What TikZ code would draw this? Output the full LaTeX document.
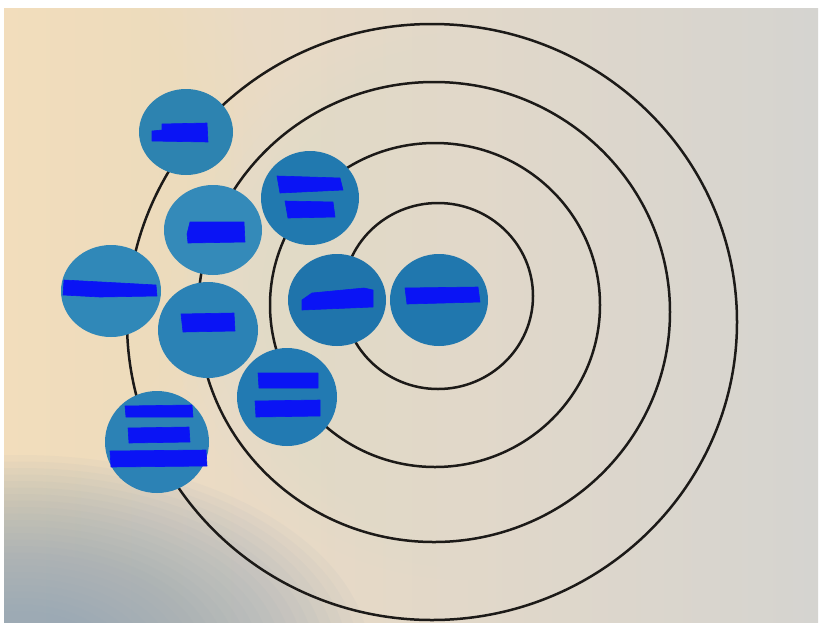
\documentclass[tikz,border=0pt]{standalone}
\usepackage{tikz}
\definecolor{bgcream}{HTML}{F2DDC0}
\definecolor{bgmid}{HTML}{DBDAD5}
\definecolor{bgright}{HTML}{D5D4D0}
\definecolor{bgpeach}{HTML}{F6DEBC}
\definecolor{bgblue}{HTML}{8DA2B4}
\definecolor{bglight}{HTML}{E1E1DD}
\definecolor{ringcol}{HTML}{1C1A18}
\definecolor{discA}{HTML}{2D83B0}
\definecolor{discB}{HTML}{348AB9}
\definecolor{discC}{HTML}{2179AF}
\definecolor{discD}{HTML}{3088B8}
\definecolor{discE}{HTML}{2B82B5}
\definecolor{discF}{HTML}{1F74AB}
\definecolor{discG}{HTML}{2077AE}
\definecolor{discH}{HTML}{227AB2}
\definecolor{discI}{HTML}{2C82B5}
\definecolor{barblue}{HTML}{0A14F5}
\tikzset{
  ring/.style={draw=ringcol, line width=2.5pt},
  barmark/.style={fill=barblue, draw=barblue, line width=0.6pt, line join=round},
}
\begin{document}
\begin{tikzpicture}[x=1pt,y=-1pt]
\useasboundingbox (0,0) rectangle (827,622);
\fill[white] (0,0) rectangle (827,622);
% photographed paper background
\begin{scope}
\clip (4,8) rectangle (818,622);
\shade[left color=bgcream, middle color=bgmid, right color=bgright] (4,8) rectangle (818,622);
\foreach \i in {0,...,19}{
  \fill[bgpeach, opacity=0.045] (0,200) ellipse [x radius={(280-12*\i)*1pt}, y radius={(360-15*\i)*1pt}];
}
\foreach \i in {0,...,19}{
  \fill[bglight, opacity=0.045] (470,300) ellipse [x radius={(300-13*\i)*1pt}, y radius={(280-12*\i)*1pt}];
}
\foreach \i in {0,...,24}{
  \fill[bgblue, opacity=0.06] (20,660) ellipse [x radius={(350-11*\i)*1pt}, y radius={(205-6.5*\i)*1pt}];
}
\end{scope}
% concentric rings
\draw[ring] (432,322) ellipse [x radius=305pt, y radius=298pt];
\draw[ring] (434,312) ellipse [x radius=236pt, y radius=230pt];
\draw[ring] (435,305) ellipse [x radius=165pt, y radius=162pt];
\draw[ring] (438,296) ellipse [x radius=95pt, y radius=93pt];
% paper discs
\fill[discA] (186,132) ellipse [x radius=47pt, y radius=43pt];
\fill[discB] (213,230) ellipse [x radius=49pt, y radius=45pt];
\fill[discC] (310,198) ellipse [x radius=49pt, y radius=47pt];
\fill[discD] (111,291) ellipse [x radius=50pt, y radius=46pt];
\fill[discE] (208,330) ellipse [x radius=50pt, y radius=48pt];
\fill[discF] (337,300) ellipse [x radius=49pt, y radius=46pt];
\fill[discG] (439,300) ellipse [x radius=49pt, y radius=46pt];
\fill[discH] (287,397) ellipse [x radius=50pt, y radius=49pt];
\fill[discI] (157,442) ellipse [x radius=52pt, y radius=51pt];
% redaction bars
\filldraw[barmark] (162,124) -- (207,123) -- (208,142) -- (152,141) -- (152,131) -- (162,130) -- cycle;
\filldraw[barmark] (190,222) -- (244,222) -- (245,242) -- (188,243) -- (187,234) -- cycle;
\filldraw[barmark] (277,176) -- (340,178) -- (343,190) -- (280,193) -- cycle;
\filldraw[barmark] (285,201) -- (333,202) -- (335,217) -- (288,218) -- cycle;
\filldraw[barmark] (64,280) -- (120,283) -- (156,285) -- (157,296) -- (100,297) -- (63,295) -- cycle;
\filldraw[barmark] (181,314) -- (234,313) -- (235,331) -- (183,332) -- cycle;
\filldraw[barmark] (312,293) -- (364,288) -- (373,290) -- (373,307) -- (302,310) -- (302,300) -- cycle;
\filldraw[barmark] (405,288) -- (478,287) -- (480,302) -- (407,304) -- cycle;
\filldraw[barmark] (258,373) -- (318,373) -- (318,388) -- (259,388) -- cycle;
\filldraw[barmark] (255,401) -- (320,400) -- (320,416) -- (256,417) -- cycle;
\filldraw[barmark] (125,406) -- (192,405) -- (193,417) -- (126,417) -- cycle;
\filldraw[barmark] (128,428) -- (189,427) -- (190,442) -- (129,443) -- cycle;
\filldraw[barmark] (110,451) -- (206,450) -- (207,466) -- (111,467) -- cycle;
\end{tikzpicture}
\end{document}
